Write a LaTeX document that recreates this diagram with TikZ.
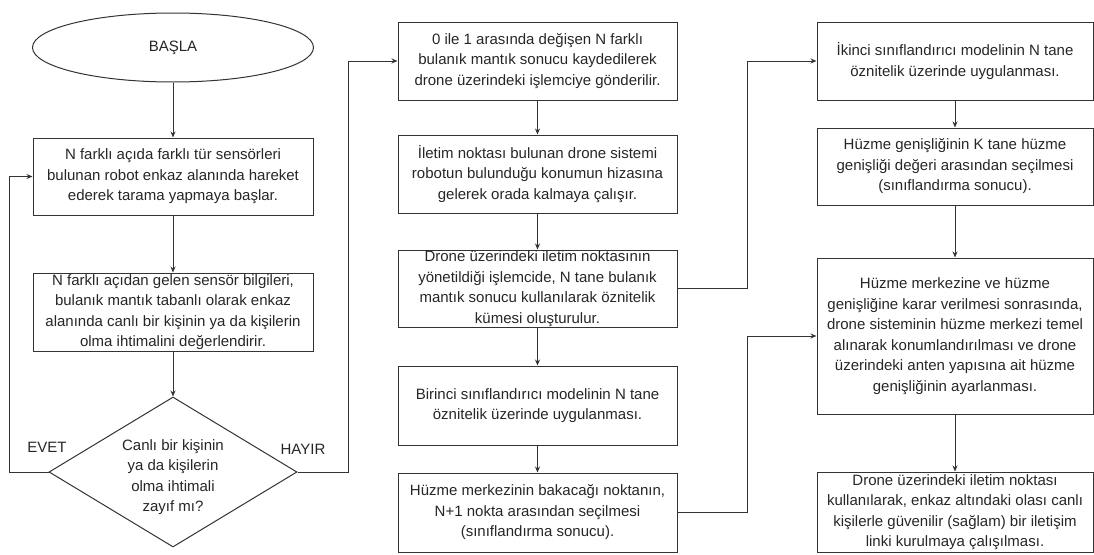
\documentclass[tikz,border=0pt]{standalone}
\usepackage{fontspec}
\setmainfont{Liberation Sans}
\usetikzlibrary{shapes.geometric,arrows.meta}
\begin{document}
\begin{tikzpicture}[x=1pt,y=-1pt,
  every node/.style={font=\fontsize{15}{20.5}\selectfont, text=black!85},
  stroke/.style={draw=black!80, line width=1pt},
  box/.style={stroke, align=center, inner sep=0pt},
  colA/.style={box, minimum width=280pt},
  colB/.style={box, minimum width=279pt},
  colC/.style={box, minimum width=276pt},
  arr/.style={stroke, -{Stealth[length=6pt,width=5pt]}},
  lbl/.style={inner sep=0pt},
]
\useasboundingbox (0,0) rectangle (1094,554);

% left column: start, scan, evaluate, decision
\node[stroke, ellipse, minimum width=281pt, minimum height=69pt, inner sep=0pt] (start) at (173,47.5) {BAŞLA};
\node[colA, minimum height=77pt] (scan) at (173,176.5)
  {N farklı açıda farklı tür sensörleri\\bulunan robot enkaz alanında hareket\\ederek tarama yapmaya başlar.};
\node[colA, minimum height=78pt] (eval) at (173,312)
  {N farklı açıdan gelen sensör bilgileri,\\bulanık mantık tabanlı olarak enkaz\\alanında canlı bir kişinin ya da kişilerin\\olma ihtimalini değerlendirir.};
\node[stroke, diamond, aspect=1.65, minimum width=248pt, minimum height=150pt, inner sep=0pt] (dec) at (173,472) {};
\node[align=center, inner sep=0pt] (dectext) at (173,477)
  {Canlı bir kişinin\\ya da kişilerin\\olma ihtimali\\zayıf mı?};
\node[lbl] (yes) at (47,447.5) {EVET};
\node[lbl] (no) at (303,449) {HAYIR};

% middle column
\node[colB, minimum height=78pt] (send) at (537.5,61)
  {0 ile 1 arasında değişen N farklı\\bulanık mantık sonucu kaydedilerek\\drone üzerindeki işlemciye gönderilir.};
\node[colB, minimum height=78pt] (hover) at (537.5,174)
  {İletim noktası bulunan drone sistemi\\robotun bulunduğu konumun hizasına\\gelerek orada kalmaya çalışır.};
\node[colB, minimum height=77pt] (feat) at (537.5,288.5)
  {Drone üzerindeki iletim noktasının\\yönetildiği işlemcide, N tane bulanık\\mantık sonucu kullanılarak öznitelik\\kümesi oluşturulur.};
\node[colB, minimum height=79pt] (clsA) at (537.5,405.5)
  {Birinci sınıflandırıcı modelinin N tane\\öznitelik üzerinde uygulanması.};
\node[colB, minimum height=79pt] (centre) at (537.5,512.5)
  {Hüzme merkezinin bakacağı noktanın,\\N+1 nokta arasından seçilmesi\\(sınıflandırma sonucu).};

% right column
\node[colC, minimum height=78pt] (clsB) at (955,61)
  {İkinci sınıflandırıcı modelinin N tane\\öznitelik üzerinde uygulanması.};
\node[colC, minimum height=77pt] (width) at (955,166.5)
  {Hüzme genişliğinin K tane hüzme\\genişliği değeri arasından seçilmesi\\(sınıflandırma sonucu).};
\node[colC, minimum height=156pt] (adjust) at (955,336)
  {Hüzme merkezine ve hüzme\\genişliğine karar verilmesi sonrasında,\\drone sisteminin hüzme merkezi temel\\alınarak konumlandırılması ve drone\\üzerindeki anten yapısına ait hüzme\\genişliğinin ayarlanması.};
\node[colC, minimum height=80pt] (link) at (955,512)
  {Drone üzerindeki iletim noktası\\kullanılarak, enkaz altındaki olası canlı\\kişilerle güvenilir (sağlam) bir iletişim\\linki kurulmaya çalışılması.};

% routing corners
\coordinate (loopL) at (9.5,472);
\coordinate (loopR) at (348.5,472);
\coordinate (busA) at (747,288.5);
\coordinate (busB) at (747,512.5);

% connectors
\draw[arr] (start) -- (scan);
\draw[arr] (scan) -- (eval);
\draw[arr] (eval) -- (dec);
\draw[arr] (dec.west) -- (loopL) |- (scan.west);
\draw[arr] (dec.east) -- (loopR) |- (send.west);
\draw[arr] (send) -- (hover);
\draw[arr] (hover) -- (feat);
\draw[arr] (feat) -- (clsA);
\draw[arr] (clsA) -- (centre);
\draw[arr] (feat.east) -- (busA) |- (clsB.west);
\draw[arr] (centre.east) -- (busB) |- (adjust.west);
\draw[arr] (clsB) -- (width);
\draw[arr] (width) -- (adjust);
\draw[arr] (adjust) -- (link);
\end{tikzpicture}
\end{document}
